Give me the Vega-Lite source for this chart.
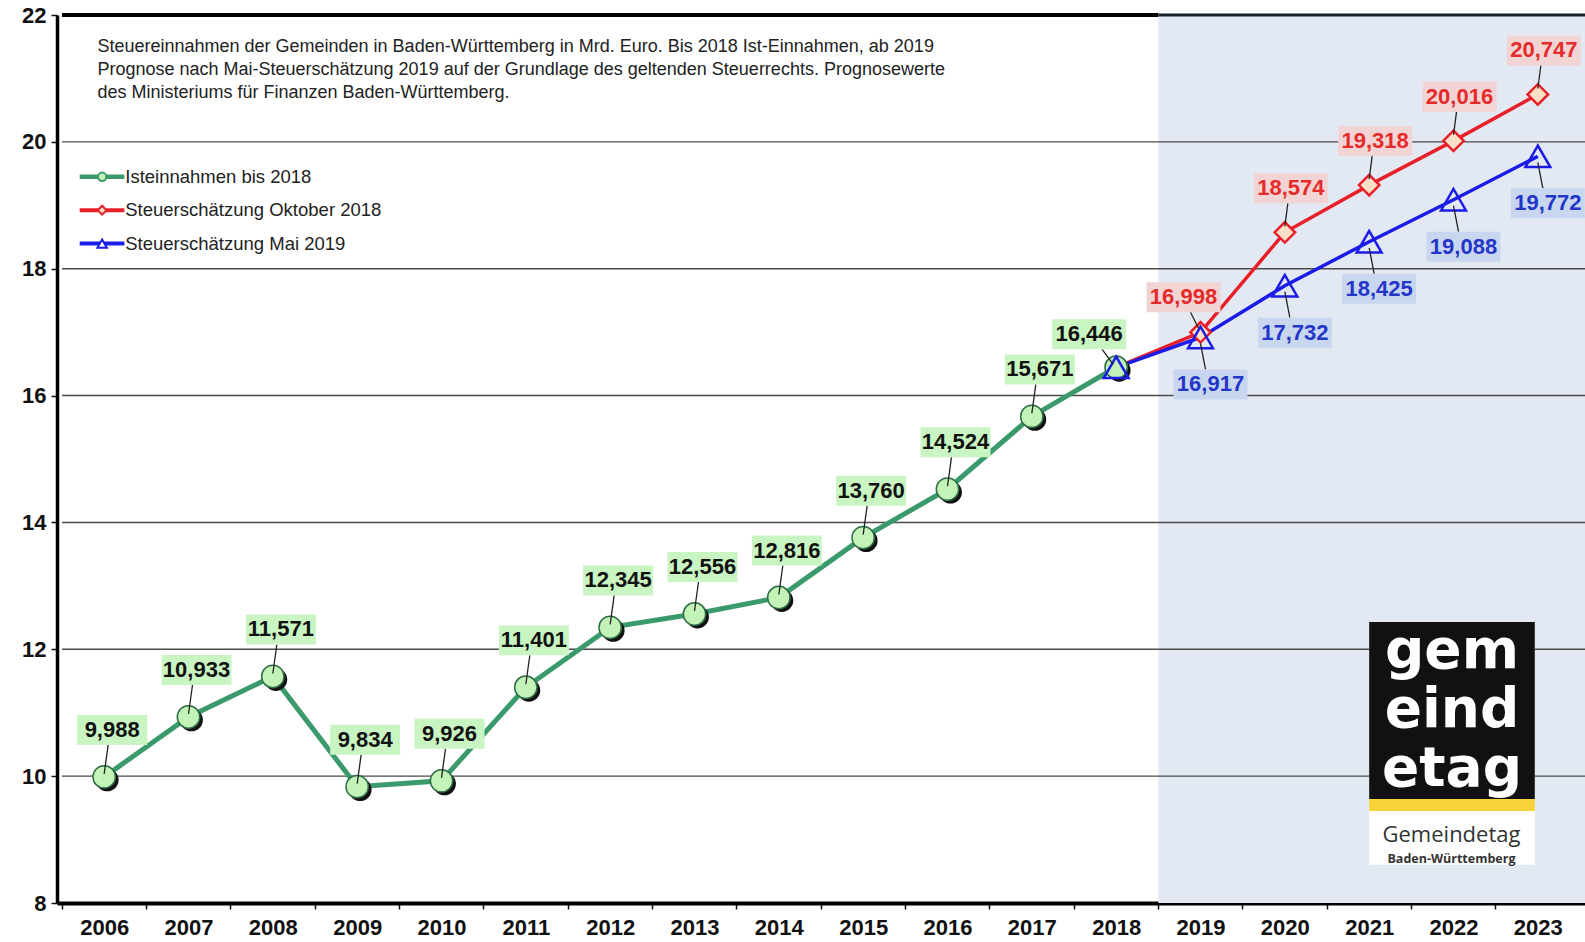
{
  "$schema": "https://vega.github.io/schema/vega-lite/v6.json",
  "width": 1528,
  "height": 888,
  "autosize": {"type": "none"},
  "padding": {"left": 57, "top": 15, "right": 0, "bottom": 39},
  "background": "white",
  "config": {
    "view": {"stroke": null},
    "font": "Liberation Sans",
    "locale": {"number": {"decimal": ",", "thousands": ".", "grouping": [3], "currency": ["", " €"]}}
  },
  "datasets": {
    "tax": [
      {"year": 2006, "value": 9.988, "series": "Ist"},
      {"year": 2007, "value": 10.933, "series": "Ist"},
      {"year": 2008, "value": 11.571, "series": "Ist"},
      {"year": 2009, "value": 9.834, "series": "Ist"},
      {"year": 2010, "value": 9.926, "series": "Ist"},
      {"year": 2011, "value": 11.401, "series": "Ist"},
      {"year": 2012, "value": 12.345, "series": "Ist"},
      {"year": 2013, "value": 12.556, "series": "Ist"},
      {"year": 2014, "value": 12.816, "series": "Ist"},
      {"year": 2015, "value": 13.760, "series": "Ist"},
      {"year": 2016, "value": 14.524, "series": "Ist"},
      {"year": 2017, "value": 15.671, "series": "Ist"},
      {"year": 2018, "value": 16.446, "series": "Ist"},
      {"year": 2018, "value": 16.446, "series": "Okt"},
      {"year": 2019, "value": 16.998, "series": "Okt"},
      {"year": 2020, "value": 18.574, "series": "Okt"},
      {"year": 2021, "value": 19.318, "series": "Okt"},
      {"year": 2022, "value": 20.016, "series": "Okt"},
      {"year": 2023, "value": 20.747, "series": "Okt"},
      {"year": 2018, "value": 16.446, "series": "Mai"},
      {"year": 2019, "value": 16.917, "series": "Mai"},
      {"year": 2020, "value": 17.732, "series": "Mai"},
      {"year": 2021, "value": 18.425, "series": "Mai"},
      {"year": 2022, "value": 19.088, "series": "Mai"},
      {"year": 2023, "value": 19.772, "series": "Mai"}
    ],
    "one": [{"k": 1}],
    "grid": [{"g": 10}, {"g": 12}, {"g": 14}, {"g": 16}, {"g": 18}, {"g": 20}]
  },
  "layer": [
    {
      "data": {"name": "one"},
      "mark": {"type": "rect", "color": "#e3e9f3"},
      "encoding": {
        "x": {"datum": 2018.5, "type": "quantitative", "scale": {"domain": [2005.5, 2023.5], "nice": false, "zero": false},
          "axis": {
            "title": null,
            "values": [2006, 2007, 2008, 2009, 2010, 2011, 2012, 2013, 2014, 2015, 2016, 2017, 2018, 2019, 2020, 2021, 2022, 2023],
            "format": "d",
            "grid": false,
            "labelFlush": false,
            "labelFont": "Liberation Sans",
            "labelFontWeight": "bold",
            "labelFontSize": 22,
            "labelColor": "#111111",
            "labelPadding": 8,
            "tickOffset": -42.44,
            "labelOffset": 42.44,
            "tickSize": 6,
            "tickColor": "#111111",
            "tickWidth": 1.5,
            "domainColor": "#000000",
            "domainWidth": 4
          }},
        "x2": {"datum": 2023.7},
        "y": {"datum": 8, "type": "quantitative", "scale": {"domain": [8, 22], "nice": false, "zero": false},
          "axis": {
            "title": null,
            "values": [8, 10, 12, 14, 16, 18, 20, 22],
            "format": "d",
            "grid": false,
            "labelFlush": false,
            "labelFont": "Liberation Sans",
            "labelFontWeight": "bold",
            "labelFontSize": 22,
            "labelColor": "#111111",
            "labelPadding": 5,
            "tickSize": 6,
            "tickColor": "#111111",
            "tickWidth": 1.5,
            "domainColor": "#000000",
            "domainWidth": 3.5
          }},
        "y2": {"datum": 22}
      }
    },
    {
      "data": {"name": "grid"},
      "mark": {"type": "rule", "color": "#4a4a4a", "strokeWidth": 1.4},
      "encoding": {"x": {"datum": 2005.5, "type": "quantitative"}, "x2": {"datum": 2023.7}, "y": {"field": "g", "type": "quantitative"}}
    },
    {
      "data": {"name": "one"},
      "mark": {"type": "rule", "color": "#000000", "strokeWidth": 4},
      "encoding": {"x": {"datum": 2005.5, "type": "quantitative"}, "x2": {"datum": 2018.5}, "y": {"datum": 22, "type": "quantitative"}}
    },
    {
      "data": {"name": "one"},
      "mark": {"type": "rule", "color": "#1a1f2e", "strokeWidth": 3},
      "encoding": {"x": {"datum": 2018.5, "type": "quantitative"}, "x2": {"datum": 2023.7}, "y": {"datum": 22, "type": "quantitative"}}
    },
    {
      "data": {"name": "one"},
      "mark": {"type": "text", "align": "left", "baseline": "top", "fontSize": 18, "lineHeight": 22.7, "color": "#222222", "font": "Liberation Sans"},
      "encoding": {
        "x": {"datum": 2005.92, "type": "quantitative"}, "y": {"datum": 21.63, "type": "quantitative"},
        "text": {"value": ["Steuereinnahmen der Gemeinden in Baden-Württemberg in Mrd. Euro. Bis 2018 Ist-Einnahmen, ab 2019", "Prognose nach Mai-Steuerschätzung 2019 auf der Grundlage des geltenden Steuerrechts. Prognosewerte", "des Ministeriums für Finanzen Baden-Württemberg."]}
      }
    },
    {
      "data": {"name": "one"},
      "mark": {"type": "rule", "color": "#3b9a6b", "strokeWidth": 4.5},
      "encoding": {"x": {"datum": 2005.71, "type": "quantitative"}, "x2": {"datum": 2006.24}, "y": {"datum": 19.449, "type": "quantitative"}}
    },
    {
      "data": {"name": "one"},
      "mark": {"type": "point", "shape": "circle", "filled": true, "fill": "#c4f3b8", "stroke": "#3b9a6b", "strokeWidth": 2, "size": 70, "opacity": 1},
      "encoding": {"x": {"datum": 2005.976, "type": "quantitative"}, "y": {"datum": 19.449, "type": "quantitative"}}
    },
    {
      "data": {"name": "one"},
      "mark": {"type": "text", "align": "left", "baseline": "middle", "fontSize": 18.5, "color": "#222222"},
      "encoding": {"x": {"datum": 2006.25, "type": "quantitative"}, "y": {"datum": 19.449, "type": "quantitative"}, "text": {"value": "Isteinnahmen bis 2018"}}
    },
    {
      "data": {"name": "one"},
      "mark": {"type": "rule", "color": "#e8202a", "strokeWidth": 4},
      "encoding": {"x": {"datum": 2005.71, "type": "quantitative"}, "x2": {"datum": 2006.24}, "y": {"datum": 18.923, "type": "quantitative"}}
    },
    {
      "data": {"name": "one"},
      "mark": {"type": "point", "shape": "diamond", "filled": true, "fill": "#fbe0c8", "stroke": "#e8202a", "strokeWidth": 2, "size": 80, "opacity": 1},
      "encoding": {"x": {"datum": 2005.976, "type": "quantitative"}, "y": {"datum": 18.923, "type": "quantitative"}}
    },
    {
      "data": {"name": "one"},
      "mark": {"type": "text", "align": "left", "baseline": "middle", "fontSize": 18.5, "color": "#222222"},
      "encoding": {"x": {"datum": 2006.25, "type": "quantitative"}, "y": {"datum": 18.923, "type": "quantitative"}, "text": {"value": "Steuerschätzung Oktober 2018"}}
    },
    {
      "data": {"name": "one"},
      "mark": {"type": "rule", "color": "#1c1ce8", "strokeWidth": 4},
      "encoding": {"x": {"datum": 2005.71, "type": "quantitative"}, "x2": {"datum": 2006.24}, "y": {"datum": 18.397, "type": "quantitative"}}
    },
    {
      "data": {"name": "one"},
      "mark": {"type": "point", "shape": "triangle-up", "filled": true, "fill": "#ffffff", "stroke": "#1c1ce8", "strokeWidth": 2, "size": 90, "opacity": 1},
      "encoding": {"x": {"datum": 2005.976, "type": "quantitative"}, "y": {"datum": 18.397, "type": "quantitative"}}
    },
    {
      "data": {"name": "one"},
      "mark": {"type": "text", "align": "left", "baseline": "middle", "fontSize": 18.5, "color": "#222222"},
      "encoding": {"x": {"datum": 2006.25, "type": "quantitative"}, "y": {"datum": 18.397, "type": "quantitative"}, "text": {"value": "Steuerschätzung Mai 2019"}}
    },
    {
      "data": {"name": "one"},
      "mark": {"type": "rect", "color": "#ffffff"},
      "encoding": {"x": {"datum": 2021.0, "type": "quantitative"}, "x2": {"datum": 2022.964}, "y": {"datum": 12.432, "type": "quantitative"}, "y2": {"datum": 8.605}}
    },
    {
      "data": {"name": "one"},
      "mark": {"type": "rect", "color": "#111111"},
      "encoding": {"x": {"datum": 2021.0, "type": "quantitative"}, "x2": {"datum": 2022.964}, "y": {"datum": 12.432, "type": "quantitative"}, "y2": {"datum": 9.641}}
    },
    {
      "data": {"name": "one"},
      "mark": {"type": "text", "align": "center", "baseline": "middle", "fontSize": 55, "fontWeight": "bold", "font": "DejaVu Sans", "color": "#ffffff"},
      "encoding": {"x": {"datum": 2021.982, "type": "quantitative"}, "y": {"datum": 11.967, "type": "quantitative"}, "text": {"value": "gem"}}
    },
    {
      "data": {"name": "one"},
      "mark": {"type": "text", "align": "center", "baseline": "middle", "fontSize": 55, "fontWeight": "bold", "font": "DejaVu Sans", "color": "#ffffff"},
      "encoding": {"x": {"datum": 2021.982, "type": "quantitative"}, "y": {"datum": 11.037, "type": "quantitative"}, "text": {"value": "eind"}}
    },
    {
      "data": {"name": "one"},
      "mark": {"type": "text", "align": "center", "baseline": "middle", "fontSize": 55, "fontWeight": "bold", "font": "DejaVu Sans", "color": "#ffffff"},
      "encoding": {"x": {"datum": 2021.982, "type": "quantitative"}, "y": {"datum": 10.107, "type": "quantitative"}, "text": {"value": "etag"}}
    },
    {
      "data": {"name": "one"},
      "mark": {"type": "rect", "color": "#f6d43a"},
      "encoding": {"x": {"datum": 2021.0, "type": "quantitative"}, "x2": {"datum": 2022.964}, "y": {"datum": 9.641, "type": "quantitative"}, "y2": {"datum": 9.449}}
    },
    {
      "data": {"name": "one"},
      "mark": {"type": "text", "align": "center", "baseline": "middle", "fontSize": 22, "font": "Open Sans", "color": "#333333"},
      "encoding": {"x": {"datum": 2021.976, "type": "quantitative"}, "y": {"datum": 9.07, "type": "quantitative"}, "text": {"value": "Gemeindetag"}}
    },
    {
      "data": {"name": "one"},
      "mark": {"type": "text", "align": "center", "baseline": "middle", "fontSize": 12.5, "fontWeight": "bold", "font": "Open Sans", "color": "#333333"},
      "encoding": {"x": {"datum": 2021.976, "type": "quantitative"}, "y": {"datum": 8.7, "type": "quantitative"}, "text": {"value": "Baden-Württemberg"}}
    },
    {
      "data": {"name": "tax"},
      "encoding": {
        "x": {"field": "year", "type": "quantitative"},
        "y": {"field": "value", "type": "quantitative"}
      },
      "layer": [
        {
          "transform": [{"filter": "datum.series === 'Ist'"}],
          "mark": {"type": "line", "color": "#3b9a6b", "strokeWidth": 5}
        },
        {
          "transform": [{"filter": "datum.series === 'Okt'"}],
          "mark": {"type": "line", "color": "#e8202a", "strokeWidth": 3.5}
        },
        {
          "transform": [{"filter": "datum.series === 'Mai'"}],
          "mark": {"type": "line", "color": "#1c1ce8", "strokeWidth": 3.5}
        },
        {
          "transform": [{"filter": "datum.series === 'Ist'"}],
          "mark": {"type": "point", "shape": "circle", "filled": true, "color": "#111111", "size": 520, "opacity": 1, "xOffset": 3, "yOffset": 3}
        },
        {
          "transform": [{"filter": "datum.series === 'Ist'"}],
          "mark": {"type": "point", "shape": "circle", "filled": true, "fill": "#c4f3b8", "stroke": "#2e6e47", "strokeWidth": 1.5, "size": 500, "opacity": 1}
        },
        {
          "transform": [{"filter": "datum.series === 'Okt' && datum.year >= 2019"}],
          "mark": {"type": "point", "shape": "diamond", "filled": true, "fill": "#fbe0c8", "stroke": "#e8202a", "strokeWidth": 2.5, "size": 420, "opacity": 1}
        },
        {
          "transform": [{"filter": "datum.series === 'Mai'"}],
          "mark": {"type": "point", "shape": "triangle-up", "filled": false, "stroke": "#1c1ce8", "strokeWidth": 2.5, "size": 620, "opacity": 1}
        },
        {
          "transform": [{"filter": "datum.series === 'Ist' && datum.year < 2018"}],
          "mark": {"type": "rule", "color": "#222222", "strokeWidth": 1.3, "yOffset": -3, "x2Offset": 4, "y2Offset": -32},
          "encoding": {"x2": {"field": "year"}, "y2": {"field": "value"}}
        },
        {
          "transform": [{"filter": "datum.series === 'Ist' && datum.year < 2018"}],
          "mark": {"type": "bar", "color": "#c9f5c2", "width": 70, "xOffset": 8, "yOffset": -62, "y2Offset": -32},
          "encoding": {"y2": {"field": "value"}}
        },
        {
          "transform": [{"filter": "datum.series === 'Ist' && datum.year < 2018"}],
          "mark": {"type": "text", "fontWeight": "bold", "fontSize": 22, "color": "#111111", "xOffset": 8, "yOffset": -47, "baseline": "middle", "align": "center"},
          "encoding": {"text": {"field": "value", "type": "quantitative", "format": ".3f"}}
        },
        {
          "transform": [{"filter": "datum.series === 'Ist' && datum.year === 2018"}],
          "mark": {"type": "rule", "color": "#222222", "strokeWidth": 1.3, "xOffset": -3, "yOffset": -3, "x2Offset": -14, "y2Offset": -18},
          "encoding": {"x2": {"field": "year"}, "y2": {"field": "value"}}
        },
        {
          "transform": [{"filter": "datum.series === 'Ist' && datum.year === 2018"}],
          "mark": {"type": "bar", "color": "#c9f5c2", "width": 74, "xOffset": -27, "yOffset": -48, "y2Offset": -18},
          "encoding": {"y2": {"field": "value"}}
        },
        {
          "transform": [{"filter": "datum.series === 'Ist' && datum.year === 2018"}],
          "mark": {"type": "text", "fontWeight": "bold", "fontSize": 22, "color": "#111111", "xOffset": -27, "yOffset": -33, "baseline": "middle", "align": "center"},
          "encoding": {"text": {"field": "value", "type": "quantitative", "format": ".3f"}}
        },
        {
          "transform": [{"filter": "datum.series === 'Okt' && datum.year >= 2020"}],
          "mark": {"type": "rule", "color": "#222222", "strokeWidth": 1.3, "yOffset": -6, "x2Offset": 3, "y2Offset": -29},
          "encoding": {"x2": {"field": "year"}, "y2": {"field": "value"}}
        },
        {
          "transform": [{"filter": "datum.series === 'Okt' && datum.year >= 2020"}],
          "mark": {"type": "bar", "color": "#f2d4d4", "width": 74, "xOffset": 6, "yOffset": -59, "y2Offset": -29},
          "encoding": {"y2": {"field": "value"}}
        },
        {
          "transform": [{"filter": "datum.series === 'Okt' && datum.year >= 2020"}],
          "mark": {"type": "text", "fontWeight": "bold", "fontSize": 22, "color": "#e32b2b", "xOffset": 6, "yOffset": -44, "baseline": "middle", "align": "center"},
          "encoding": {"text": {"field": "value", "type": "quantitative", "format": ".3f"}}
        },
        {
          "transform": [{"filter": "datum.series === 'Okt' && datum.year === 2019"}],
          "mark": {"type": "rule", "color": "#222222", "strokeWidth": 1.3, "xOffset": -2, "yOffset": -4, "x2Offset": -10, "y2Offset": -20},
          "encoding": {"x2": {"field": "year"}, "y2": {"field": "value"}}
        },
        {
          "transform": [{"filter": "datum.series === 'Okt' && datum.year === 2019"}],
          "mark": {"type": "bar", "color": "#f2d4d4", "width": 74, "xOffset": -17, "yOffset": -50, "y2Offset": -20},
          "encoding": {"y2": {"field": "value"}}
        },
        {
          "transform": [{"filter": "datum.series === 'Okt' && datum.year === 2019"}],
          "mark": {"type": "text", "fontWeight": "bold", "fontSize": 22, "color": "#e32b2b", "xOffset": -17, "yOffset": -35, "baseline": "middle", "align": "center"},
          "encoding": {"text": {"field": "value", "type": "quantitative", "format": ".3f"}}
        },
        {
          "transform": [{"filter": "datum.series === 'Mai' && datum.year >= 2019"}],
          "mark": {"type": "rule", "color": "#222222", "strokeWidth": 1.3, "yOffset": 6, "x2Offset": 5, "y2Offset": 32},
          "encoding": {"x2": {"field": "year"}, "y2": {"field": "value"}}
        },
        {
          "transform": [{"filter": "datum.series === 'Mai' && datum.year >= 2019"}],
          "mark": {"type": "bar", "color": "#c8d6ef", "width": 74, "xOffset": 10, "yOffset": 32, "y2Offset": 62},
          "encoding": {"y2": {"field": "value"}}
        },
        {
          "transform": [{"filter": "datum.series === 'Mai' && datum.year >= 2019"}],
          "mark": {"type": "text", "fontWeight": "bold", "fontSize": 22, "color": "#2436c8", "xOffset": 10, "yOffset": 47, "baseline": "middle", "align": "center"},
          "encoding": {"text": {"field": "value", "type": "quantitative", "format": ".3f"}}
        }
      ]
    }
  ]
}
